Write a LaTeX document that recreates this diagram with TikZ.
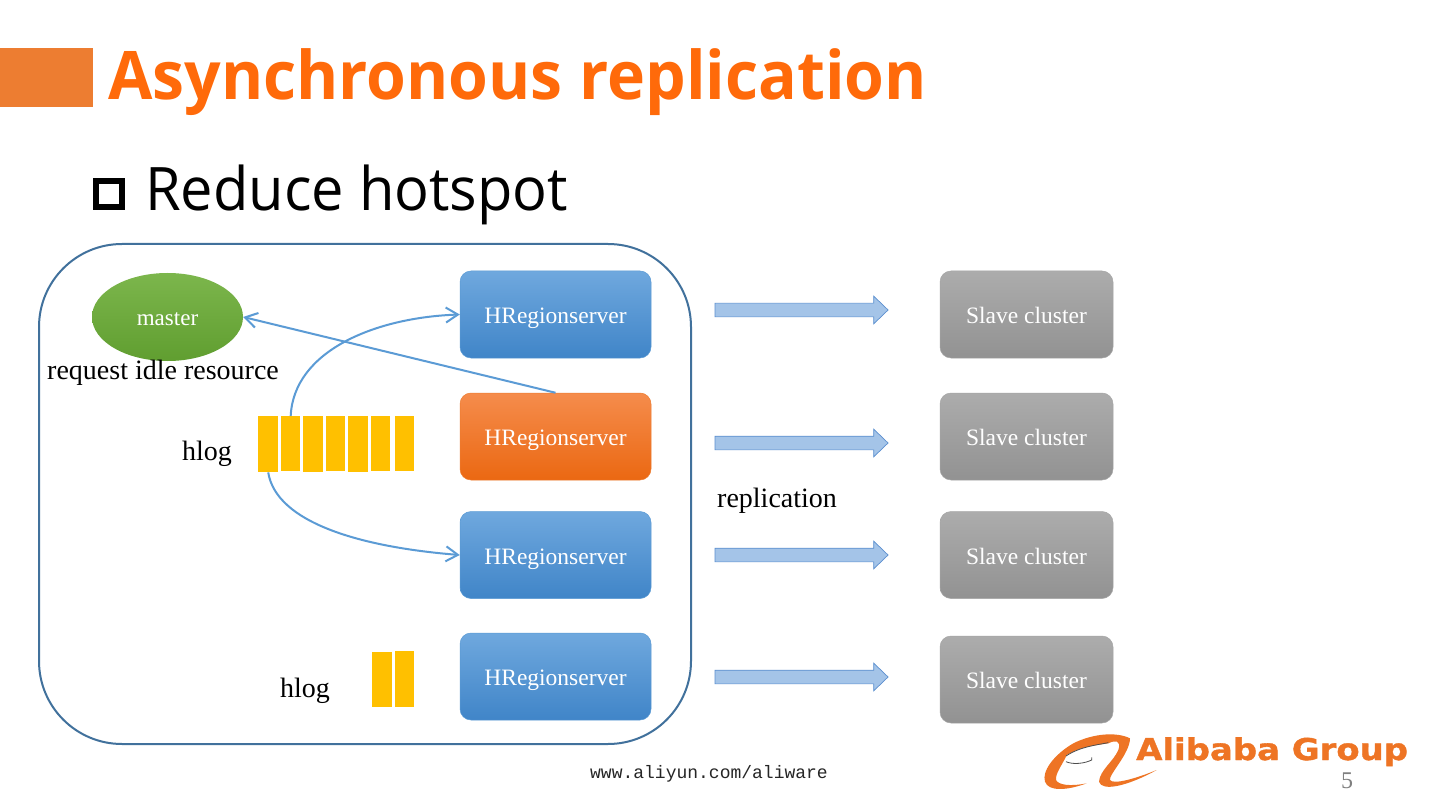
\documentclass[tikz,border=0pt]{standalone}
\usepackage{fontspec}
\setmainfont{Liberation Serif}
\newfontfamily\titlefont[FakeStretch=0.96]{Open Sans}
\newfontfamily\subfont[FakeStretch=0.963]{Open Sans}
\newfontfamily\logofont[FakeStretch=1.13,FakeBold=1.2]{DejaVu Sans}
\newfontfamily\footfont{Liberation Mono}
\usetikzlibrary{shapes.geometric,shapes.arrows,arrows.meta}
\definecolor{linkblue}{HTML}{5B9BD5}
\definecolor{titleorange}{HTML}{FF6A0A}
\definecolor{barorange}{HTML}{ED7D31}
\definecolor{logcell}{HTML}{FFC000}
\definecolor{frameblue}{HTML}{41719C}
\definecolor{logoorange}{HTML}{EE7424}
\tikzset{
  x=1pt,y=-1pt,
  hrblue/.style={rectangle,rounded corners=11pt,minimum width=191pt,minimum height=87pt,inner sep=0pt,text=white,font=\fontsize{23.5}{27}\selectfont,text height=18pt,text depth=0pt,draw=linkblue,line width=.5pt,top color={rgb,255:red,111;green,168;blue,222},bottom color={rgb,255:red,64;green,133;blue,200}},
  hrorange/.style={hrblue,draw=barorange,top color={rgb,255:red,245;green,140;blue,76},bottom color={rgb,255:red,235;green,104;blue,18}},
  slave/.style={hrblue,minimum width=173pt,draw=gray!70,top color={rgb,255:red,172;green,172;blue,172},bottom color={rgb,255:red,146;green,146;blue,146}},
  blockarrow/.style={single arrow,draw={rgb,255:red,91;green,143;blue,207},line width=.7pt,fill={rgb,255:red,164;green,196;blue,232},minimum height=173pt,single arrow head extend=7pt,single arrow tip angle=88,single arrow head indent=0pt,inner sep=0pt},
  cell/.style={fill=logcell,inner sep=0pt},
  label/.style={inner sep=0pt,text=black,font=\fontsize{28}{32}\selectfont},
  link/.style={draw=linkblue,line width=2pt,-{Straight Barb[length=12pt,width=15pt,line width=2pt]}}
}
\newcommand{\logcell}[5]{\node[cell,anchor=north west,minimum width=#4pt,minimum height=#5pt] (#1) at (#2,#3) {};}
\newcommand{\shaftgap}{\rule{0pt}{13pt}}
\begin{document}
\begin{tikzpicture}
\useasboundingbox (0,0) rectangle (1440,810);
\fill[white] (0,0) rectangle (1440,810);
% heading
\node[fill=barorange,inner sep=0pt,minimum width=93pt,minimum height=59pt,anchor=north west] (bar) at (0,48) {};
\node[anchor=base west,inner sep=0pt,text=titleorange,font=\titlefont\bfseries\fontsize{67}{80}\selectfont] (title) at (108,100) {Asynchronous replication};
\node[draw=black,line width=6pt,inner sep=0pt,minimum width=26pt,minimum height=26pt] (bullet) at (109,194.5) {};
\node[anchor=base west,inner sep=0pt,text=black,font=\subfont\fontsize{60}{72}\selectfont] (sub) at (145,211) {Reduce hotspot};
% container
\node[draw=frameblue,line width=2pt,rounded corners=83pt,minimum width=652pt,minimum height=500pt,inner sep=0pt,anchor=north west] (frame) at (38,243) {};
% servers
\node[ellipse,minimum width=151pt,minimum height=88pt,inner sep=0pt,text=white,font=\fontsize{23}{26}\selectfont,text height=18pt,text depth=0pt,top color={rgb,255:red,124;green,182;blue,76},bottom color={rgb,255:red,96;green,158;blue,48}] (master) at (167.5,317) {master};
\node[hrblue] (hr1) at (555.5,314.5) {HRegionserver};
\node[hrorange] (hr2) at (555.5,436.5) {HRegionserver};
\node[hrblue] (hr3) at (555.5,555) {HRegionserver};
\node[hrblue] (hr4) at (555.5,676.5) {HRegionserver};
\node[slave] (s1) at (1026.5,314.5) {Slave cluster};
\node[slave] (s2) at (1026.5,436.5) {Slave cluster};
\node[slave] (s3) at (1026.5,555) {Slave cluster};
\node[slave] (s4) at (1026.5,679.5) {Slave cluster};
% block arrows
\node[blockarrow] (a1) at (798,310) {\shaftgap};
\node[blockarrow] (a2) at (798,443) {\shaftgap};
\node[blockarrow] (a3) at (798,555) {\shaftgap};
\node[blockarrow] (a4) at (798,677) {\shaftgap};
% log cells
\logcell{c1}{258}{416}{20}{56}
\logcell{c2}{281}{416}{19}{55}
\logcell{c3}{303}{416}{20}{56}
\logcell{c4}{326}{416}{19}{55}
\logcell{c5}{348}{416}{20}{56}
\logcell{c6}{371}{416}{19}{55}
\logcell{c7}{395}{416}{19}{55}
\logcell{d1}{372}{652}{20}{55}
\logcell{d2}{395}{651}{19}{56}
% labels
\node[label,anchor=base west] (req) at (47,379) {request idle resource};
\node[label,anchor=base west] (hlogA) at (182,460) {hlog};
\node[label,anchor=base west] (hlogB) at (280,697) {hlog};
\node[label,anchor=base west] (repl) at (717,507) {replication};
% connectors
\draw[link] (hr2.north) -- (master.east);
\draw[link] (c2.north) .. controls +(3,-65) and +(-85,3) .. (hr1.west);
\draw[link] (c1.south) .. controls +(8,50) and +(-100,-8) .. (hr3.west);
% footer
\node[anchor=base,inner sep=0pt,text=black!85,font=\footfont\fontsize{18}{22}\selectfont] (foot) at (709,778) {www.aliyun.com/aliware};
\node[anchor=base,inner sep=0pt,text=gray,font=\fontsize{24}{28}\selectfont] (page) at (1347,788) {5};
% logo
\begin{scope}[shift={(1030,720)},x=.3333pt,y=-.3333pt]
\fill[logoorange] (300,55) .. controls (260,35) and (190,40) .. (130,70)
  .. controls (70,105) and (35,155) .. (45,185)
  .. controls (55,215) and (110,212) .. (170,190)
  .. controls (120,200) and (85,195) .. (78,180)
  .. controls (75,160) and (100,130) .. (110,105)
  .. controls (150,80) and (200,75) .. (235,70)
  .. controls (255,60) and (275,60) .. (265,90)
  .. controls (250,125) and (210,150) .. (207,185)
  .. controls (215,215) and (290,200) .. (380,150)
  .. controls (320,175) and (250,195) .. (240,180)
  .. controls (235,165) and (300,100) .. (300,55) -- cycle;
\draw[black!70,line width=.8pt] (108,108) .. controls (150,80) and (200,75) .. (235,68);
\draw[black!70,line width=.8pt] (108,125) .. controls (130,135) and (165,130) .. (185,120) -- (185,112);
\end{scope}
\node[anchor=base west,inner sep=0pt,text=logoorange,font=\logofont\bfseries\fontsize{30}{33}\selectfont] (logo) at (1136,760) {Alibaba Group};
\end{tikzpicture}
\end{document}
